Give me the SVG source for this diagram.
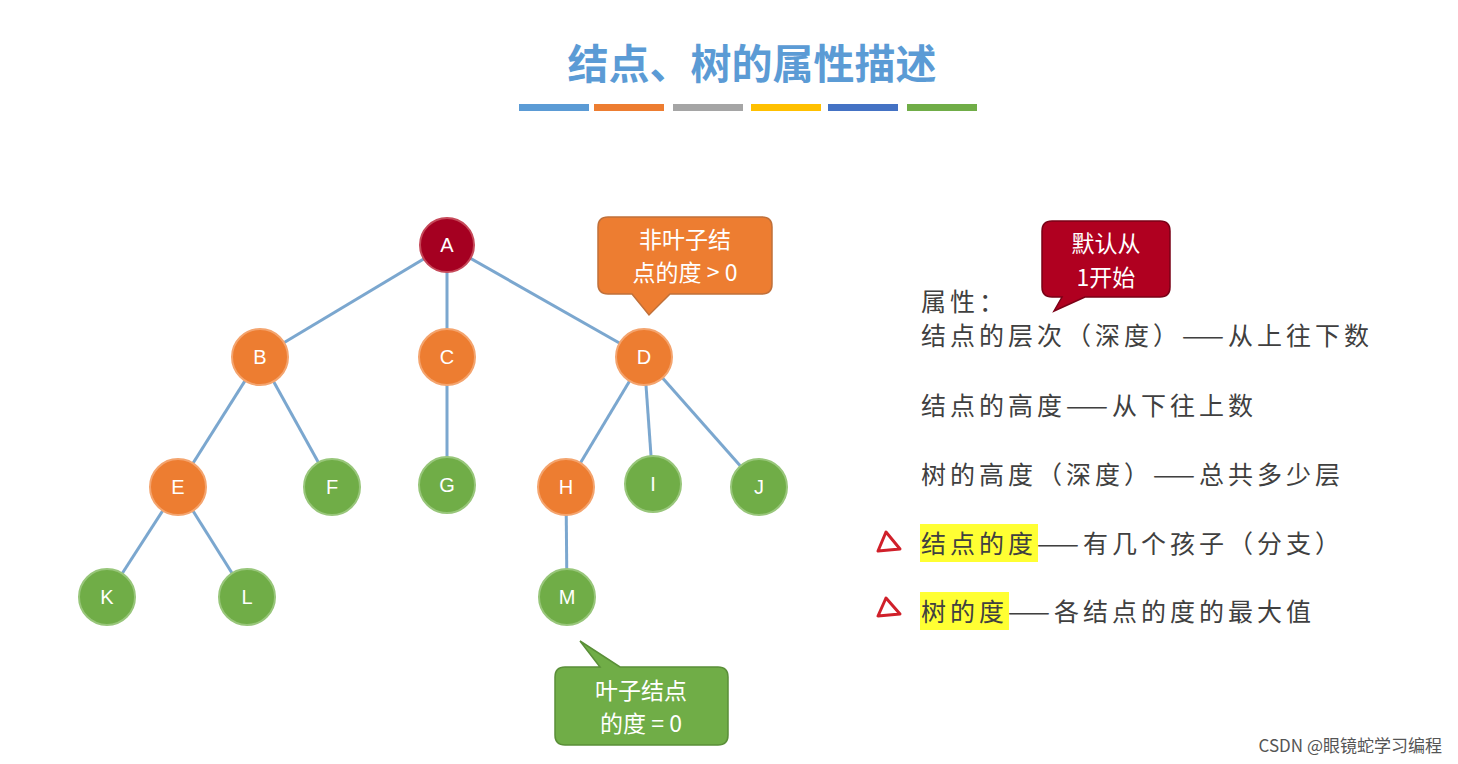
<svg xmlns="http://www.w3.org/2000/svg" width="1458" height="764" viewBox="0 0 1458 764">
<style>
.e{stroke:#7BA7CF;stroke-width:3;fill:none}
.o{fill:#ED7D31;stroke:#F4A46E;stroke-width:2}
.g{fill:#70AD47;stroke:#98C67A;stroke-width:2}
.r{fill:#A50021;stroke:#C64A5A;stroke-width:2}
.l{font-family:"Liberation Sans",Arial,sans-serif;font-size:20px;fill:#fff;text-anchor:middle}
.t{font-family:"Noto Sans CJK SC","Liberation Sans",sans-serif;font-size:25px;fill:#404040;letter-spacing:4px}
.c{font-family:"Noto Sans CJK SC","Liberation Sans",sans-serif;font-size:23px;fill:#fff;text-anchor:middle}
</style>
<rect width="1458" height="764" fill="#fff"/>
<text x="752" y="79" text-anchor="middle" font-family="Noto Sans CJK SC,sans-serif" font-size="41" font-weight="bold" fill="#5B9BD5">结点、树的属性描述</text>
<g>
<rect x="519" y="104" width="70" height="7" fill="#5B9BD5"/>
<rect x="594" y="104" width="70" height="7" fill="#ED7D31"/>
<rect x="673" y="104" width="70" height="7" fill="#A5A5A5"/>
<rect x="751" y="104" width="70" height="7" fill="#FFC000"/>
<rect x="828" y="104" width="70" height="7" fill="#4472C4"/>
<rect x="907" y="104" width="70" height="7" fill="#70AD47"/>
</g>
<g id="connectors">
<line class="e" x1="447" y1="245" x2="260" y2="357"/>
<line class="e" x1="447" y1="245" x2="447" y2="357"/>
<line class="e" x1="447" y1="245" x2="644" y2="357"/>
<line class="e" x1="260" y1="357" x2="178" y2="487"/>
<line class="e" x1="260" y1="357" x2="332" y2="487"/>
<line class="e" x1="447" y1="357" x2="447" y2="485"/>
<line class="e" x1="644" y1="357" x2="566" y2="487"/>
<line class="e" x1="644" y1="357" x2="653" y2="484"/>
<line class="e" x1="644" y1="357" x2="759" y2="487"/>
<line class="e" x1="178" y1="487" x2="107" y2="597"/>
<line class="e" x1="178" y1="487" x2="247" y2="597"/>
<line class="e" x1="566" y1="487" x2="567" y2="597"/>
</g>
<g id="A"><circle class="r" cx="447" cy="245" r="27"/><text class="l" x="447" y="252">A</text></g>
<g id="B"><circle class="o" cx="260" cy="357" r="28"/><text class="l" x="260" y="364">B</text></g>
<g id="C"><circle class="o" cx="447" cy="357" r="28"/><text class="l" x="447" y="364">C</text></g>
<g id="D"><circle class="o" cx="644" cy="357" r="28"/><text class="l" x="644" y="364">D</text></g>
<g id="E"><circle class="o" cx="178" cy="487" r="28"/><text class="l" x="178" y="494">E</text></g>
<g id="F"><circle class="g" cx="332" cy="487" r="28"/><text class="l" x="332" y="494">F</text></g>
<g id="G"><circle class="g" cx="447" cy="485" r="28"/><text class="l" x="447" y="492">G</text></g>
<g id="H"><circle class="o" cx="566" cy="487" r="28"/><text class="l" x="566" y="494">H</text></g>
<g id="I"><circle class="g" cx="653" cy="484" r="28"/><text class="l" x="653" y="491">I</text></g>
<g id="J"><circle class="g" cx="759" cy="487" r="28"/><text class="l" x="759" y="494">J</text></g>
<g id="K"><circle class="g" cx="107" cy="597" r="28"/><text class="l" x="107" y="604">K</text></g>
<g id="L"><circle class="g" cx="247" cy="597" r="28"/><text class="l" x="247" y="604">L</text></g>
<g id="M"><circle class="g" cx="567" cy="597" r="28"/><text class="l" x="567" y="604">M</text></g>
<g id="callout-nonleaf">
<path d="M608,217 H762 Q772,217 772,227 V284 Q772,294 762,294 H670 L649,315 L632,294 H608 Q598,294 598,284 V227 Q598,217 608,217 Z" fill="#ED7D31" stroke="#C0703A" stroke-width="1.5"/>
<text class="c" x="685" y="248">非叶子结</text><text class="c" x="685" y="281">点的度 &gt; 0</text>
</g>
<g id="callout-leaf">
<path d="M565,667 H600 L580,641 L620,667 H718 Q728,667 728,677 V735 Q728,745 718,745 H565 Q555,745 555,735 V677 Q555,667 565,667 Z" fill="#70AD47" stroke="#5A8F38" stroke-width="1.5"/>
<text class="c" x="641" y="699">叶子结点</text><text class="c" x="641" y="732">的度 = 0</text>
</g>
<g id="callout-default">
<path d="M1052,221 H1160 Q1170,221 1170,231 V287 Q1170,297 1160,297 H1085 L1054,311 L1062,297 H1052 Q1042,297 1042,287 V231 Q1042,221 1052,221 Z" fill="#B00020" stroke="#7A0016" stroke-width="1.5"/>
<text class="c" x="1106" y="252" font-size="22">默认从</text><text class="c" x="1106" y="286" font-size="22">1开始</text>
</g>
<g id="properties">
<rect x="920" y="524" width="118" height="38" fill="#FFFF33"/>
<rect x="920" y="592" width="89" height="38" fill="#FFFF33"/>
<text class="t" x="921" y="311">属性：</text>
<text class="t" x="921" y="345">结点的层次（深度）——从上往下数</text>
<text class="t" x="921" y="415">结点的高度——从下往上数</text>
<text class="t" x="921" y="484">树的高度（深度）——总共多少层</text>
<text class="t" x="921" y="553">结点的度——有几个孩子（分支）</text>
<text class="t" x="921" y="621">树的度——各结点的度的最大值</text>
<path d="M886,532 L878,551 L900,549 Z" fill="none" stroke="#D0202A" stroke-width="3" stroke-linejoin="round"/>
<path d="M886,598 L878,616 L900,614 Z" fill="none" stroke="#D0202A" stroke-width="3" stroke-linejoin="round"/>
</g>
<text x="1442" y="752" text-anchor="end" font-family="Noto Sans CJK SC,sans-serif" font-size="17" fill="#555">CSDN @眼镜蛇学习编程</text>
</svg>
